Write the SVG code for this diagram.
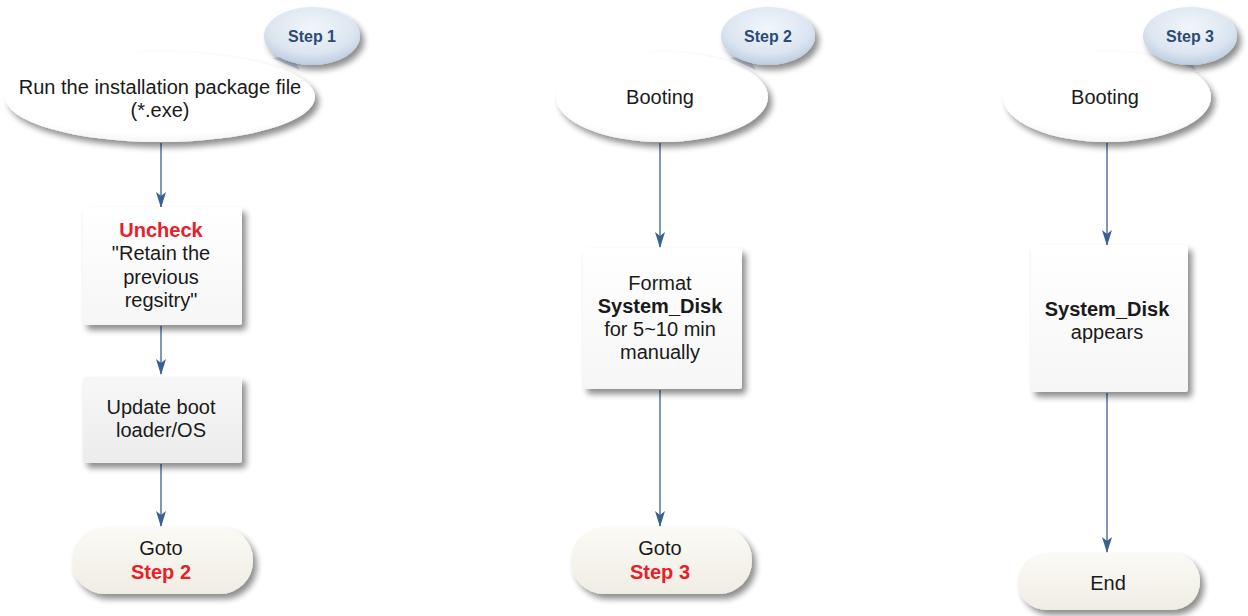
<svg xmlns="http://www.w3.org/2000/svg" width="1248" height="616" viewBox="0 0 1248 616">
<defs>
<filter id="sh" x="-20%" y="-20%" width="150%" height="160%">
<feGaussianBlur in="SourceAlpha" stdDeviation="3"/>
<feOffset dx="4" dy="5" result="b"/>
<feComponentTransfer><feFuncA type="linear" slope="0.45"/></feComponentTransfer>
<feMerge><feMergeNode/><feMergeNode in="SourceGraphic"/></feMerge>
</filter>
<linearGradient id="gBox" x1="0" y1="0" x2="0" y2="1">
<stop offset="0" stop-color="#ffffff"/><stop offset="1" stop-color="#f6f6f6"/>
</linearGradient>
<linearGradient id="gGray" x1="0" y1="0" x2="0" y2="1">
<stop offset="0" stop-color="#f7f7f7"/><stop offset="1" stop-color="#ececec"/>
</linearGradient>
<linearGradient id="gPill" x1="0" y1="0" x2="0" y2="1">
<stop offset="0" stop-color="#fbfaf6"/><stop offset="1" stop-color="#efede3"/>
</linearGradient>
<radialGradient id="gBub" cx="0.5" cy="0.35" r="0.65">
<stop offset="0" stop-color="#f2f6fb"/><stop offset="0.7" stop-color="#dbe5f1"/><stop offset="1" stop-color="#bccce0"/>
</radialGradient>
<radialGradient id="gEll" cx="0.5" cy="0.35" r="0.7">
<stop offset="0" stop-color="#ffffff"/><stop offset="0.8" stop-color="#ffffff"/><stop offset="1" stop-color="#f0f0f0"/>
</radialGradient>
<marker id="ah2" markerWidth="16" markerHeight="10" refX="15" refY="5" orient="auto" markerUnits="userSpaceOnUse" viewBox="0 0 16 10">
<path d="M0,0 L4,5 L0,10 L16,5 Z" fill="#3a5f93"/>
</marker>
</defs>
<style>
.t{font-family:"Liberation Sans",Arial,sans-serif;font-size:20px;fill:#1a1a1a;text-anchor:middle}
.b{font-weight:bold}
.r{fill:#e8202a;font-weight:bold}
.s{font-family:"Liberation Sans",Arial,sans-serif;font-size:16px;font-weight:bold;fill:#2e4a78;text-anchor:middle}
.c{stroke:#3a5f93;stroke-width:1.3;fill:none;marker-end:url(#ah2)}
</style>
<rect width="1248" height="616" fill="#ffffff"/>

<g id="connectors">
<line class="c" x1="161" y1="143" x2="161" y2="207"/>
<line class="c" x1="161" y1="326" x2="161" y2="374"/>
<line class="c" x1="161" y1="464" x2="161" y2="526"/>
<line class="c" x1="660" y1="143" x2="660" y2="247"/>
<line class="c" x1="660" y1="390" x2="660" y2="526"/>
<line class="c" x1="1107" y1="143" x2="1107" y2="245"/>
<line class="c" x1="1107" y1="393" x2="1107" y2="552"/>
</g>

<g id="n1">
<ellipse cx="160" cy="97" rx="155" ry="45" fill="url(#gEll)" filter="url(#sh)"/>
<text class="t" x="160" y="94">Run the installation package file</text>
<text class="t" x="160" y="117">(*.exe)</text>
</g>
<g id="b1">
<path d="M272,58 L300,70 L292,56 Z" fill="#c9d6e6"/>
<ellipse cx="312" cy="36" rx="48" ry="29" fill="url(#gBub)" filter="url(#sh)"/>
<text class="s" x="312" y="42">Step 1</text>
</g>
<g id="n2">
<rect x="83" y="207" width="159" height="118" rx="3" fill="url(#gBox)" filter="url(#sh)"/>
<text class="t r" x="161" y="237">Uncheck</text>
<text class="t" x="161" y="260">"Retain the</text>
<text class="t" x="161" y="284">previous</text>
<text class="t" x="161" y="307">regsitry"</text>
</g>
<g id="n3">
<rect x="83" y="377" width="159" height="86" rx="3" fill="url(#gGray)" filter="url(#sh)"/>
<text class="t" x="161" y="414">Update boot</text>
<text class="t" x="161" y="437">loader/OS</text>
</g>
<g id="n4">
<rect x="72" y="527" width="181" height="67" rx="33" fill="url(#gPill)" filter="url(#sh)"/>
<text class="t" x="161" y="555">Goto</text>
<text class="t r" x="161" y="579">Step 2</text>
</g>

<g id="n5">
<ellipse cx="662" cy="97" rx="106" ry="45" fill="url(#gEll)" filter="url(#sh)"/>
<text class="t" x="660" y="104">Booting</text>
</g>
<g id="b2">
<path d="M730,58 L756,70 L748,56 Z" fill="#c9d6e6"/>
<ellipse cx="768" cy="36" rx="47" ry="29" fill="url(#gBub)" filter="url(#sh)"/>
<text class="s" x="768" y="42">Step 2</text>
</g>
<g id="n6">
<rect x="583" y="248" width="159" height="141" rx="3" fill="url(#gBox)" filter="url(#sh)"/>
<text class="t" x="660" y="290">Format</text>
<text class="t b" x="660" y="313">System_Disk</text>
<text class="t" x="660" y="336">for 5~10 min</text>
<text class="t" x="660" y="359">manually</text>
</g>
<g id="n7">
<rect x="571" y="527" width="181" height="67" rx="33" fill="url(#gPill)" filter="url(#sh)"/>
<text class="t" x="660" y="555">Goto</text>
<text class="t r" x="660" y="579">Step 3</text>
</g>

<g id="n8">
<ellipse cx="1107" cy="97" rx="104" ry="45" fill="url(#gEll)" filter="url(#sh)"/>
<text class="t" x="1105" y="104">Booting</text>
</g>
<g id="b3">
<path d="M1170,58 L1196,70 L1188,56 Z" fill="#c9d6e6"/>
<ellipse cx="1190" cy="36" rx="47" ry="29" fill="url(#gBub)" filter="url(#sh)"/>
<text class="s" x="1190" y="42">Step 3</text>
</g>
<g id="n9">
<rect x="1031" y="245" width="157" height="147" rx="3" fill="url(#gBox)" filter="url(#sh)"/>
<text class="t b" x="1107" y="316">System_Disk</text>
<text class="t" x="1107" y="339">appears</text>
</g>
<g id="n10">
<rect x="1018" y="553" width="182" height="57" rx="28" fill="url(#gPill)" filter="url(#sh)"/>
<text class="t" x="1108" y="590">End</text>
</g>
</svg>
